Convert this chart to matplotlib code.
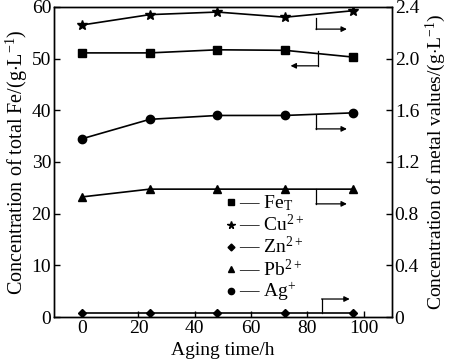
import matplotlib
matplotlib.use("Agg")
import matplotlib.pyplot as plt
from matplotlib.lines import Line2D

plt.rcParams['font.family'] = ['Liberation Serif', 'DejaVu Serif']
plt.rcParams['mathtext.fontset'] = 'custom'
plt.rcParams['mathtext.rm'] = 'Liberation Serif'
plt.rcParams['mathtext.it'] = 'Liberation Serif:italic'

time_h = [0, 24, 48, 72, 96]
fe_total = [51.1, 51.1, 51.7, 51.6, 50.3]          # left axis, g/L
cu = [2.26, 2.34, 2.36, 2.32, 2.37]                # right axis, g/L
zn = [0.028, 0.028, 0.028, 0.028, 0.028]
pb = [0.93, 0.99, 0.99, 0.99, 0.99]
ag = [1.38, 1.53, 1.56, 1.56, 1.58]

x_ticks = [0, 20, 40, 60, 80, 100]
left_ticks = [0, 10, 20, 30, 40, 50, 60]
right_ticks = [0, 0.4, 0.8, 1.2, 1.6, 2.0, 2.4]
right_ticklabels = ['0', '0.4', '0.8', '1.2', '1.6', '2.0', '2.4']

fig = plt.figure(figsize=(4.5, 3.62), dpi=100)
ax = fig.add_axes([0.12, 0.124, 0.751, 0.857])
ax2 = ax.twinx()

lw = 1.2
ax.plot(time_h, fe_total, color='black', lw=lw, marker='s', ms=5.5)
ax2.plot(time_h, cu, color='black', lw=lw, marker='*', ms=7)
ax2.plot(time_h, zn, color='black', lw=lw, marker='D', ms=4)
ax2.plot(time_h, pb, color='black', lw=lw, marker='^', ms=6)
ax2.plot(time_h, ag, color='black', lw=lw, marker='o', ms=6)

ax.set_xlim(-10, 110)
ax.set_ylim(0, 60)
ax2.set_ylim(0, 2.4)
ax.set_xticks(x_ticks)
ax.set_yticks(left_ticks)
ax2.set_yticks(right_ticks)
ax2.set_yticklabels(right_ticklabels)

fs = 14
for a in (ax, ax2):
    a.tick_params(direction='in', length=4, width=1, labelsize=fs, pad=2)
    for s in a.spines.values():
        s.set_linewidth(1.0)

ax.set_xlabel('Aging time/h', fontsize=fs, labelpad=4)
ax.set_ylabel('Concentration of total Fe/(g$\\cdot$L$^{-1}$)', fontsize=14.5, labelpad=1)
ax2.set_ylabel('Concentration of metal values/(g$\\cdot$L$^{-1}$)', fontsize=fs, labelpad=3)

# series-to-axis indicator arrows (in left-axis units)
def indicator(xv, y_from, y_to, x_end):
    ax.plot([xv, xv], [y_from, y_to], color='black', lw=0.9)
    ax.annotate('', xy=(x_end, y_to), xytext=(xv, y_to),
                arrowprops=dict(arrowstyle='-|>', color='black', lw=0.9,
                                mutation_scale=8, shrinkA=0, shrinkB=0))

indicator(83, 57.9, 55.7, 94)
indicator(83.6, 51.4, 48.6, 74)
indicator(83, 39.1, 36.4, 94)
indicator(83, 24.8, 21.9, 94)
indicator(85, 0.7, 3.5, 95)

handles = [Line2D([], [], color='black', marker=m, ls='none', ms=s)
           for m, s in [('s', 4), ('*', 5.5), ('D', 3.5), ('^', 4.5), ('o', 4.5)]]
labels = ['— Fe$_\\mathrm{T}$', '— Cu$^{2+}$', '— Zn$^{2+}$', '— Pb$^{2+}$', '— Ag$^{+}$']
ax.legend(handles, labels, loc='upper left', bbox_to_anchor=(0.48, 0.43),
          frameon=False, fontsize=fs, handlelength=0.5, handletextpad=0.15,
          labelspacing=0.05, borderpad=0)

fig.savefig('out.png', dpi=100)
